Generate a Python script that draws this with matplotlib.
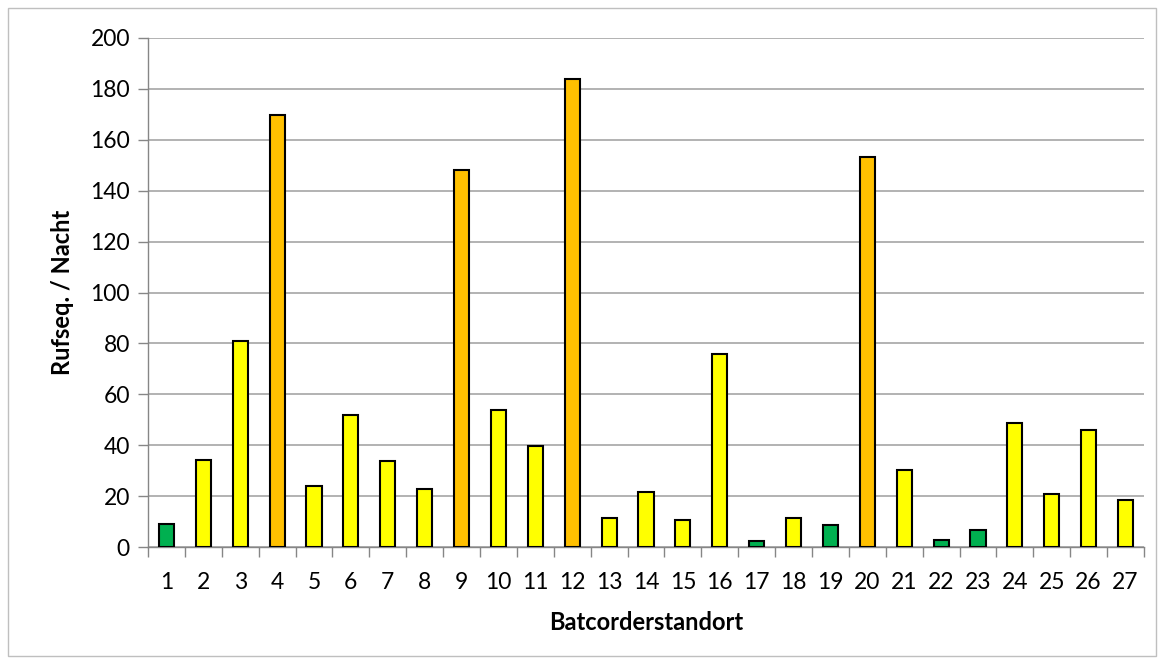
import matplotlib
matplotlib.use("Agg")
import matplotlib.pyplot as plt
from matplotlib.patches import Rectangle

standorte = [str(i) for i in range(1, 28)]
werte = [9.0, 34.2, 81, 169.8, 24.1, 52, 33.9, 22.9, 148.2, 53.8, 39.8, 184, 11.3, 21.5, 10.5,
         75.8, 2.5, 11.5, 8.5, 153.4, 30.2, 2.9, 6.7, 48.8, 20.8, 45.8, 18.5]
klassen = ["g", "y", "y", "o", "y", "y", "y", "y", "o", "y", "y", "o", "y", "y", "y",
           "y", "g", "y", "g", "o", "y", "g", "g", "y", "y", "y", "y"]
farben = {"g": "#00B050", "y": "#FFFF00", "o": "#FFC000"}
y_ticks = list(range(0, 201, 20))

plt.rcParams['font.family'] = ['Lato', 'DejaVu Sans']

fig = plt.figure(figsize=(11.64, 6.64), dpi=100)
ax = fig.add_axes([148/1164, 1 - 547/664, (1144-148)/1164, (547-38)/664])

x = list(range(len(standorte)))
ax.bar(x, werte, width=0.41, color=[farben[k] for k in klassen], edgecolor="black",
       linewidth=1.5, zorder=3)

ax.set_xlim(-0.5, len(standorte) - 0.5)
ax.set_ylim(0, 200)
ax.set_yticks(y_ticks)
ax.set_yticklabels([str(t) for t in y_ticks], fontsize=16.5)
ax.set_xticks(x)
ax.set_xticklabels(standorte, fontsize=16.5)
ax.set_xticks([i - 0.5 for i in range(len(standorte) + 1)], minor=True)
ax.tick_params(axis='x', which='major', length=0, pad=18)
ax.tick_params(axis='x', which='minor', length=7, color="#868686", width=1)
ax.tick_params(axis='y', which='major', length=7, color="#868686", width=1, pad=6)
ax.tick_params(axis='y', direction='out')
ax.yaxis.grid(True, color="#A6A6A6", linewidth=1.2, zorder=0)
ax.set_axisbelow(True)
for s in ['top', 'right']:
    ax.spines[s].set_visible(False)
for s in ['left', 'bottom']:
    ax.spines[s].set_color("#868686")
    ax.spines[s].set_linewidth(1)

ax.set_ylabel("Rufseq. / Nacht", fontsize=17, fontweight="bold", labelpad=12)
ax.set_xlabel("Batcorderstandort", fontsize=17, fontweight="bold", labelpad=13)

fig.patches.append(Rectangle((8/1164, 8/664), (1156-8)/1164, (656-8)/664,
                             transform=fig.transFigure, fill=False,
                             edgecolor="#BFBFBF", linewidth=1))

fig.savefig("out.png", dpi=100, facecolor="white")
